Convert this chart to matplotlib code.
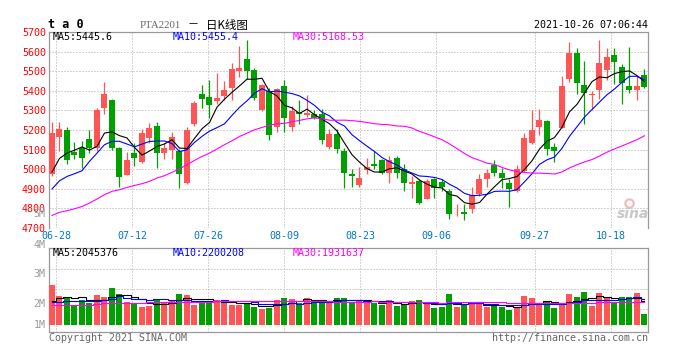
import numpy as np
import pandas as pd
import matplotlib
matplotlib.use('Agg')
import matplotlib.pyplot as plt

# PTA2201 日K (06-28 ~ 10-26, 80 个交易日)
opens = [4974, 5166, 5201, 5089, 5110, 5156, 5106, 5310, 5351, 5110,
         4972, 5084, 5038, 5161, 5222, 5081, 5098, 5093, 4931, 5232,
         5385, 5370, 5346, 5372, 5412, 5499, 5564, 5504, 5302, 5399,
         5215, 5424, 5217, 5292, 5275, 5283, 5283, 5115, 5178, 5093,
         4974, 4917, 4996, 5028, 5048, 4979, 5059, 4999, 4923, 4940,
         4846, 4948, 4936, 4889, 4785, 4781, 4795, 4872, 4948, 5019,
         4982, 4928, 4889, 4991, 5135, 5217, 5247, 5115, 5208, 5458,
         5594, 5429, 5377, 5402, 5504, 5582, 5523, 5424, 5402, 5480]
highs = [5241, 5242, 5217, 5139, 5144, 5198, 5314, 5446, 5356, 5112,
         5089, 5135, 5203, 5234, 5239, 5135, 5191, 5101, 5217, 5350,
         5429, 5455, 5492, 5450, 5543, 5628, 5659, 5518, 5436, 5416,
         5416, 5453, 5322, 5351, 5378, 5303, 5305, 5203, 5203, 5106,
         5002, 5011, 5059, 5093, 5054, 5067, 5067, 5025, 4965, 4948,
         4948, 4957, 4948, 4897, 4821, 4824, 4909, 4974, 4999, 5047,
         5008, 4948, 5019, 5186, 5300, 5305, 5250, 5135, 5475, 5650,
         5620, 5552, 5399, 5657, 5620, 5620, 5535, 5625, 5475, 5509]
lows = [4965, 5093, 5025, 5050, 5008, 5084, 5093, 5283, 5100, 4911,
        4968, 5016, 5033, 5135, 5008, 5050, 5050, 4906, 4925, 5222,
        5314, 5259, 5331, 5351, 5351, 5470, 5458, 5351, 5297, 5150,
        5190, 5191, 5195, 5229, 5266, 5254, 5127, 5105, 5081, 4906,
        4909, 4909, 4974, 4999, 4974, 4928, 4957, 4889, 4855, 4821,
        4846, 4855, 4889, 4744, 4761, 4739, 4778, 4863, 4909, 4965,
        4902, 4809, 4884, 4987, 5127, 5174, 5072, 5036, 5208, 5445,
        5382, 5232, 5309, 5356, 5453, 5433, 5331, 5390, 5351, 5416]
closes = [5186, 5203, 5045, 5074, 5059, 5106, 5300, 5382, 5106, 4962,
          5047, 5059, 5186, 5208, 5081, 5110, 5166, 4974, 5198, 5337,
          5356, 5326, 5365, 5402, 5513, 5518, 5499, 5361, 5429, 5173,
          5407, 5259, 5297, 5283, 5288, 5263, 5147, 5178, 5101, 4979,
          4965, 4957, 5013, 5014, 4979, 5048, 4982, 4931, 4936, 4829,
          4940, 4906, 4911, 4769, 4788, 4773, 4868, 4951, 4982, 4979,
          4953, 4897, 5003, 5161, 5201, 5251, 5101, 5093, 5424, 5594,
          5441, 5390, 5385, 5543, 5574, 5547, 5441, 5402, 5424, 5421]
# 成交量 (M)
volumes = [3.38, 2.45, 2.33, 1.66, 2.11, 1.86, 2.54, 2.37, 3.13, 2.62,
           1.91, 1.83, 1.52, 1.61, 2.20, 1.83, 2.11, 2.62, 2.54, 1.69,
           1.98, 1.98, 2.11, 1.89, 1.69, 1.69, 1.89, 1.55, 1.35, 1.47,
           2.11, 2.32, 2.20, 1.83, 2.32, 1.98, 2.11, 1.83, 2.32, 2.28,
           1.91, 2.03, 1.91, 1.83, 1.69, 2.11, 1.64, 1.74, 2.03, 2.11,
           1.74, 1.44, 1.52, 2.62, 1.52, 1.69, 1.94, 1.86, 1.52, 1.61,
           1.55, 1.27, 1.55, 2.45, 2.28, 1.83, 1.91, 1.44, 1.83, 2.62,
           2.37, 2.79, 1.61, 2.70, 2.33, 1.83, 2.37, 2.37, 2.70, 0.93]

date_labels = ['06-28', '07-12', '07-26', '08-09', '08-23', '09-06', '09-27', '10-18']
date_index = [0, 10, 20, 30, 40, 50, 63, 73]

# 均线开头几天 (更早的K线不在图内, 直接从图上读)
ma5_head = [4985, 5055, 5082, 5097]
ma10_head = [4899, 4941, 4963, 4977, 4992, 5040, 5082, 5125, 5142]
ma30_head = [4764, 4780, 4788, 4798, 4810, 4827, 4848, 4870, 4887, 4895,
             4907, 4917, 4926, 4938, 4955, 4967, 4984, 5002, 5023, 5045,
             5065, 5082, 5103, 5125, 5145, 5167, 5184, 5201, 5213]
vma5_head = [2.0, 2.3, 2.35, 2.3]
vma10_head = [1.9, 1.95, 2.0, 2.0, 2.0, 2.0, 2.05, 2.1, 2.2]
vma30_head = [1.70, 1.70, 1.70, 1.71, 1.71, 1.72, 1.80, 1.82, 1.83, 1.84,
              1.85, 1.86, 1.88, 1.90, 1.92, 1.95, 1.97, 1.98, 1.98, 1.98,
              1.98, 1.98, 1.99, 2.00, 2.00, 2.00, 2.00, 2.02, 2.04]


def moving_avg(values, n, head):
    s = pd.Series(values, dtype=float).rolling(n).mean()
    s.iloc[:len(head)] = head
    return s.values


RED = '#ff5555'
GREEN = '#00a000'
GRAY = '#999999'
MONO = 'DejaVu Sans Mono'
FS = 7.2
dots = (0, (1, 2))

x = np.arange(len(closes))
o = np.array(opens)
c = np.array(closes)
colors = [RED if cc >= oo else GREEN for oo, cc in zip(o, c)]
# 日期网格的间距比K线间距略大
tick_pos = (4 + np.array(date_index) * 7.6) / 7.5

fig = plt.figure(figsize=(6.76, 3.59), dpi=100)
ax = fig.add_axes([49 / 676, 131 / 359, 599 / 676, 196 / 359])
axv = fig.add_axes([49 / 676, 26.7 / 359, 599 / 676, 84 / 359])

# K线
ax.vlines(x, lows, highs, colors=colors, lw=0.9, zorder=3)
body = np.maximum(np.abs(c - o), 4)
ax.bar(x, body, bottom=np.minimum(o, c), width=0.8, color=colors, zorder=3)

ax.plot(x, moving_avg(closes, 5, ma5_head), color='black', lw=0.8, zorder=4)
ax.plot(x, moving_avg(closes, 10, ma10_head), color='#0000ff', lw=0.8, zorder=4)
ax.plot(x, moving_avg(closes, 30, ma30_head), color='#ff00ff', lw=0.8, zorder=4)

ax.set_xlim(-0.4, 79.47)
ax.set_ylim(4700, 5700)
ax.set_yticks(range(4700, 5701, 100))
ax.set_xticks(tick_pos)
ax.set_xticklabels(date_labels)
ax.grid(True, color='#aaaaaa', linestyle=dots, lw=0.72)
ax.tick_params(length=0, labelsize=FS)
ax.tick_params(axis='y', pad=2.2, labelcolor='#ff0000')
ax.tick_params(axis='x', pad=2.2, labelcolor='#0078c8')
for lab in ax.get_xticklabels() + ax.get_yticklabels():
    lab.set_family(MONO)
ax.spines['bottom'].set_visible(False)
for s in ['left', 'top', 'right']:
    ax.spines[s].set_color(GRAY)
    ax.spines[s].set_linewidth(0.9)

ax.text(4 / 599, 0.974, 'MA5:5445.6', transform=ax.transAxes, color='black',
        family=MONO, fontsize=FS, va='center')
ax.text(124 / 599, 0.974, 'MA10:5455.4', transform=ax.transAxes, color='#0000ff',
        family=MONO, fontsize=FS, va='center')
ax.text(244 / 599, 0.974, 'MA30:5168.53', transform=ax.transAxes, color='#ff00ff',
        family=MONO, fontsize=FS, va='center')

# sina 水印
ax.text(0.975, 0.07, 'sina', transform=ax.transAxes, color='#c8c8c8', fontsize=10,
        style='italic', weight='bold', ha='center', va='center', zorder=1)
ax.plot([0.968], [0.13], transform=ax.transAxes, marker='o', ms=6, mfc='none',
        mec='#f4b8b8', mew=1.5, zorder=1)

# 成交量
axv.bar(x, volumes, width=0.8, color=colors, zorder=3)
axv.plot(x, moving_avg(volumes, 5, vma5_head), color='black', lw=0.8,
         drawstyle='steps-mid', zorder=4)
axv.plot(x, moving_avg(volumes, 10, vma10_head), color='#0000ff', lw=0.8,
         drawstyle='steps-mid', zorder=4)
axv.plot(x, moving_avg(volumes, 30, vma30_head), color='#ff00ff', lw=0.8,
         drawstyle='steps-mid', zorder=4)
axv.set_xlim(-0.4, 79.47)
axv.set_ylim(-0.62, 6.48)
axv.set_xticks(tick_pos)
axv.set_yticks([1.35, 3.04, 4.73])
axv.set_xticklabels([])
axv.set_yticklabels([])
axv.tick_params(length=0)
axv.grid(True, color='#aaaaaa', linestyle=dots, lw=0.72)
for s in axv.spines.values():
    s.set_color(GRAY)
    s.set_linewidth(0.9)

for lab, fy in [('4M', 1.039), ('3M', 0.694), ('2M', 0.337), ('1M', 0.087), ('5M', 1.408)]:
    axv.text(-0.006, fy, lab, transform=axv.transAxes, color=GRAY, family=MONO,
             fontsize=FS, ha='right', va='center')

axv.text(4 / 599, 0.948, 'MA5:2045376', transform=axv.transAxes, color='black',
         family=MONO, fontsize=FS, va='center')
axv.text(124 / 599, 0.948, 'MA10:2200208', transform=axv.transAxes, color='#0000ff',
         family=MONO, fontsize=FS, va='center')
axv.text(244 / 599, 0.948, 'MA30:1931637', transform=axv.transAxes, color='#ff00ff',
         family=MONO, fontsize=FS, va='center')

# 标题行
ty = 1 - 25 / 359
fig.text(48 / 676, ty, 't a 0', family=MONO, weight='bold', fontsize=8.5, va='center')
fig.text(140 / 676, ty, 'PTA2201', family='Liberation Serif', color='#666666',
         fontsize=7.8, va='center')
fig.text(188 / 676, ty, '－', family='Noto Sans CJK SC', fontsize=8, va='center')
fig.text(206 / 676, ty, '日K线图', family='Noto Sans CJK SC', fontsize=8.3, va='center')
fig.text(648 / 676, ty, '2021-10-26 07:06:44', family=MONO, fontsize=FS,
         ha='right', va='center')

by = 1 - 338 / 359
fig.text(49 / 676, by, 'Copyright 2021 SINA.COM', family=MONO, color='#666666',
         fontsize=FS, va='center')
fig.text(648 / 676, by, 'http://finance.sina.com.cn', family=MONO, color='#666666',
         fontsize=FS, ha='right', va='center')

fig.savefig('out.png', dpi=100)
